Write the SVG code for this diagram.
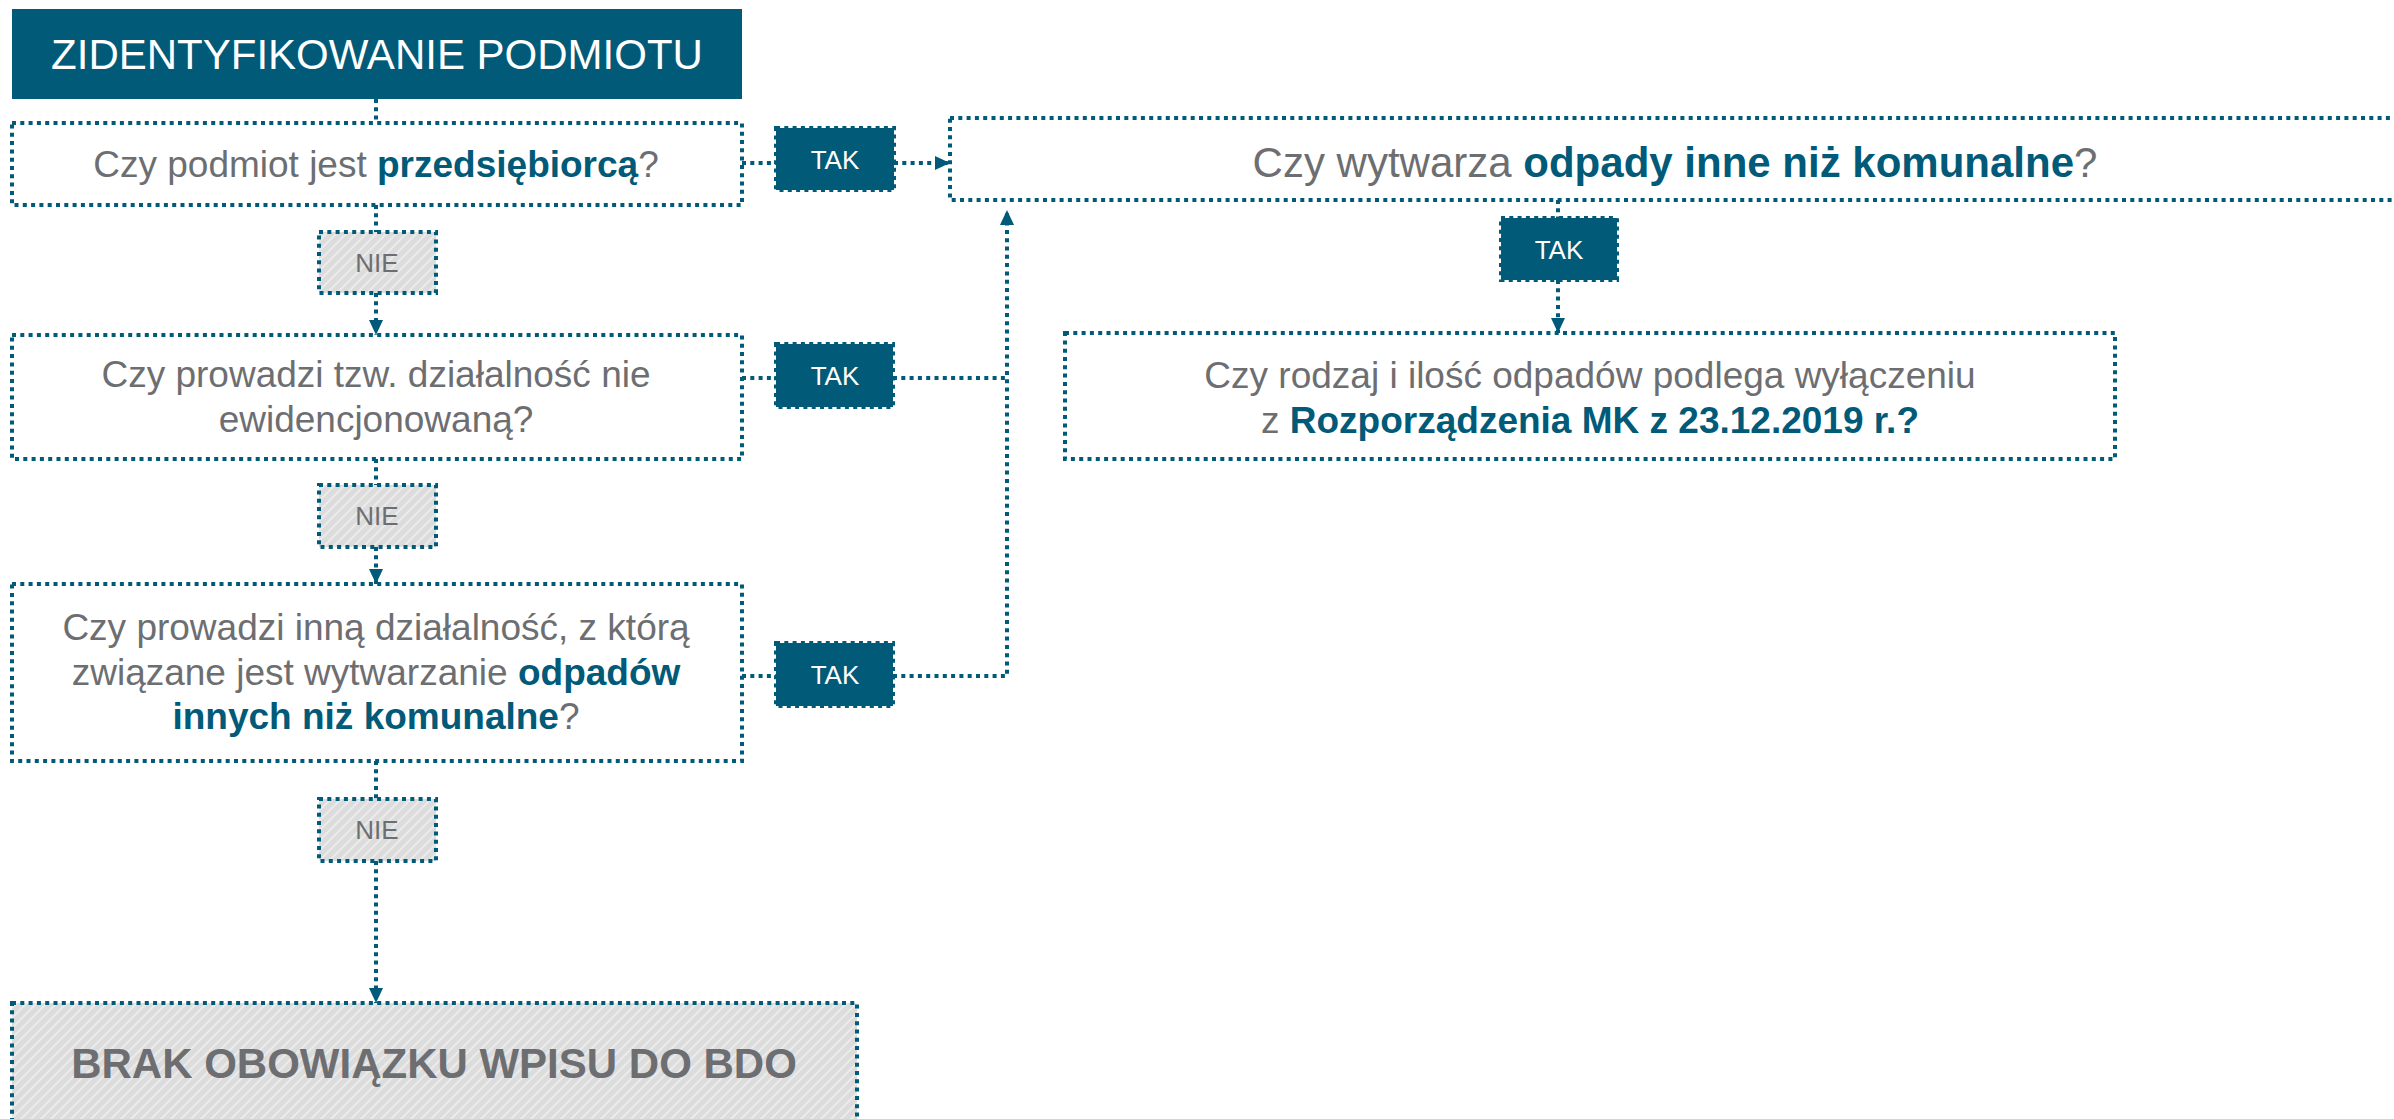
<svg xmlns="http://www.w3.org/2000/svg" width="2394" height="1119" viewBox="0 0 2394 1119">
<style>
  text { font-family: "Liberation Sans", Arial, sans-serif; }
  .q { fill: #ffffff; stroke: #005a78; stroke-width: 4; stroke-dasharray: 4 4.3; }
  .tak { fill: #005a78; stroke: #005a78; stroke-width: 4; stroke-dasharray: 4 4.3; }
  .nie { fill: url(#hatch); stroke: #005a78; stroke-width: 4; stroke-dasharray: 4 4.3; }
  .c { fill: none; stroke: #005a78; stroke-width: 4; stroke-dasharray: 4 4.3; }
  .qt { font-size: 37px; fill: #6d6e71; }
  .b { font-weight: bold; fill: #005a78; }
  .lt { font-size: 26px; }
</style>
<defs>
  <pattern id="hatch" patternUnits="userSpaceOnUse" width="10" height="10">
    <rect width="10" height="10" fill="#dcdcdc"/>
    <path d="M-2,2 L2,-2 M0,10 L10,0 M8,12 L12,8" stroke="#ebebeb" stroke-width="2"/>
  </pattern>
  <marker id="arr" markerUnits="userSpaceOnUse" markerWidth="16" markerHeight="16" viewBox="0 0 16 16" refX="15" refY="8" orient="auto">
    <path d="M0,1 L15,8 L0,15 Z" fill="#005a78"/>
  </marker>
</defs>

<g id="connectors">
  <path class="c" d="M376,99 V123"/>
  <path class="c" d="M376,205 V232"/>
  <path class="c" d="M376,293 V335" marker-end="url(#arr)"/>
  <path class="c" d="M742,163 H776"/>
  <path class="c" d="M894,163 H950" marker-end="url(#arr)"/>
  <path class="c" d="M376,459 V485"/>
  <path class="c" d="M376,547 V584" marker-end="url(#arr)"/>
  <path class="c" d="M742,378 H776"/>
  <path class="c" d="M893,378 H1007"/>
  <path class="c" d="M742,676 H776"/>
  <path class="c" d="M893,676 H1007 V210" marker-end="url(#arr)"/>
  <path class="c" d="M376,761 V799"/>
  <path class="c" d="M376,861 V1003" marker-end="url(#arr)"/>
  <path class="c" d="M1558,200 V218"/>
  <path class="c" d="M1558,280 V333" marker-end="url(#arr)"/>
</g>

<g id="title">
  <rect x="12" y="9" width="730" height="90" fill="#005a78"/>
  <text x="377" y="69" text-anchor="middle" font-size="42" fill="#ffffff">ZIDENTYFIKOWANIE PODMIOTU</text>
</g>

<g id="q1">
  <rect class="q" x="12" y="123" width="730" height="82"/>
  <text class="qt" x="376" y="177" text-anchor="middle">Czy podmiot jest <tspan class="b">przedsiębiorcą</tspan>?</text>
</g>

<g id="nie1">
  <rect class="nie" x="319" y="232" width="117" height="61"/>
  <text class="lt" x="377" y="272" text-anchor="middle" fill="#6d6e71">NIE</text>
</g>

<g id="tak1">
  <rect class="tak" x="776" y="128" width="118" height="62"/>
  <text class="lt" x="835" y="169" text-anchor="middle" fill="#ffffff">TAK</text>
</g>

<g id="q4">
  <rect class="q" x="950" y="118" width="1460" height="82"/>
  <text x="1675" y="177" text-anchor="middle" font-size="42" fill="#6d6e71">Czy wytwarza <tspan class="b">odpady inne niż komunalne</tspan>?</text>
</g>

<g id="tak4">
  <rect class="tak" x="1501" y="218" width="116" height="62"/>
  <text class="lt" x="1559" y="259" text-anchor="middle" fill="#ffffff">TAK</text>
</g>

<g id="q5">
  <rect class="q" x="1065" y="333" width="1050" height="126"/>
  <text class="qt" x="1590" y="388" text-anchor="middle">Czy rodzaj i ilość odpadów podlega wyłączeniu</text>
  <text class="qt" x="1590" y="433" text-anchor="middle">z <tspan class="b">Rozporządzenia MK z 23.12.2019 r.?</tspan></text>
</g>

<g id="q2">
  <rect class="q" x="12" y="335" width="730" height="124"/>
  <text class="qt" x="376" y="387" text-anchor="middle">Czy prowadzi tzw. działalność nie</text>
  <text class="qt" x="376" y="432" text-anchor="middle">ewidencjonowaną?</text>
</g>

<g id="tak2">
  <rect class="tak" x="776" y="344" width="117" height="63"/>
  <text class="lt" x="835" y="385" text-anchor="middle" fill="#ffffff">TAK</text>
</g>

<g id="nie2">
  <rect class="nie" x="319" y="485" width="117" height="62"/>
  <text class="lt" x="377" y="525" text-anchor="middle" fill="#6d6e71">NIE</text>
</g>

<g id="q3">
  <rect class="q" x="12" y="584" width="730" height="177"/>
  <text class="qt" x="376" y="640" text-anchor="middle">Czy prowadzi inną działalność, z którą</text>
  <text class="qt" x="376" y="685" text-anchor="middle">związane jest wytwarzanie <tspan class="b">odpadów</tspan></text>
  <text class="qt" x="376" y="729" text-anchor="middle"><tspan class="b">innych niż komunalne</tspan>?</text>
</g>

<g id="tak3">
  <rect class="tak" x="776" y="643" width="117" height="63"/>
  <text class="lt" x="835" y="684" text-anchor="middle" fill="#ffffff">TAK</text>
</g>

<g id="nie3">
  <rect class="nie" x="319" y="799" width="117" height="62"/>
  <text class="lt" x="377" y="839" text-anchor="middle" fill="#6d6e71">NIE</text>
</g>

<g id="final">
  <rect class="nie" x="12" y="1003" width="845" height="140"/>
  <text x="434" y="1078" text-anchor="middle" font-size="42" font-weight="bold" fill="#6d6e71">BRAK OBOWIĄZKU WPISU DO BDO</text>
</g>
</svg>
